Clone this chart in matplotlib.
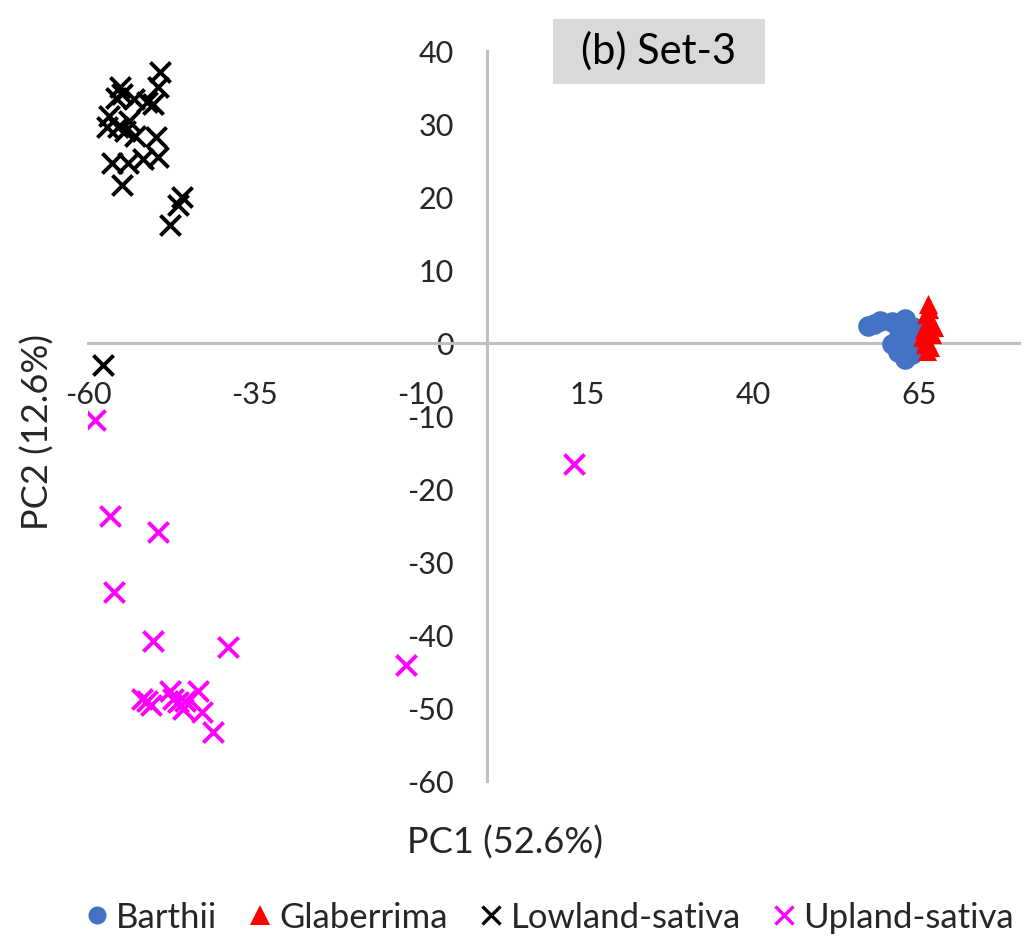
import matplotlib
matplotlib.use("Agg")
import matplotlib.pyplot as plt
from matplotlib.lines import Line2D
from matplotlib.patches import Rectangle

plt.rcParams['font.family'] = ['Lato', 'DejaVu Sans']
plt.rcParams['axes.unicode_minus'] = False

# PCA scores (PC1, PC2) per group
barthii_pc1 = [57.3, 59.1, 60.9, 62.9, 60.9, 61.8, 62.9, 63.9, 63.6, 64.1, 58.2, 62.0]
barthii_pc2 = [2.3, 3.0, 2.9, 3.3, -0.1, -1.2, -2.2, -1.5, 0.8, 2.2, 2.6, 1.0]

glaberrima_pc1 = [66.3, 66.0, 66.6, 65.7, 66.9, 66.0, 66.6, 66.2, 65.4, 67.2, 66.5, 65.9]
glaberrima_pc2 = [5.3, 4.0, 3.0, 1.9, 1.2, 0.3, -0.5, -1.1, 0.8, 2.2, 4.6, -0.2]

lowland_pc1 = [-49.2, -49.5, -55.2, -54.9, -53.1, -51.2, -50.3, -56.9, -57.2, -55.5,
               -54.4, -52.9, -49.8, -56.4, -54.0, -51.7, -49.5, -54.9, -45.9, -46.5,
               -47.6, -57.7, -53.8, -55.8]
lowland_pc2 = [37.1, 35.1, 35.1, 34.1, 33.4, 33.0, 32.7, 31.1, 29.6, 29.6,
               29.0, 28.4, 28.2, 24.7, 24.7, 25.2, 25.5, 21.6, 20.0, 18.9,
               16.2, -3.0, 30.4, 33.6]

upland_pc1 = [-58.9, -56.7, -56.1, -49.5, -50.2, -38.9, -12.2, 13.1, -41.2,
              -51.1, -51.9, -47.7, -46.5, -45.7, -43.5, -42.9, -47.2, -45.4, -50.5]
upland_pc2 = [-10.5, -23.7, -34.1, -25.9, -40.8, -41.6, -44.1, -16.6, -53.3,
              -49.0, -48.8, -47.7, -49.2, -50.1, -47.7, -50.5, -48.8, -49.0, -49.6]

x_ticks = [-60, -35, -10, 15, 40, 65]
y_ticks = [-60, -50, -40, -30, -20, -10, 0, 10, 20, 30, 40]

W, H = 1026, 945
fig = plt.figure(figsize=(W / 100, H / 100), dpi=100)
ax = fig.add_axes([88 / W, (H - 782) / H, (1019 - 88) / W, (782 - 52) / H])

ax.scatter(barthii_pc1, barthii_pc2, s=220, marker='o', color='#4472C4',
           linewidths=0, zorder=3)
ax.scatter(glaberrima_pc1, glaberrima_pc2, s=190, marker='^', color='#FF0000',
           linewidths=0, zorder=4)
ax.scatter(lowland_pc1, lowland_pc2, s=210, marker='x', color='black',
           linewidths=2.8, zorder=3)
ax.scatter(upland_pc1, upland_pc2, s=210, marker='x', color='#FF00FF',
           linewidths=2.8, zorder=3)

ax.set_xlim(-60, 80)
ax.set_ylim(-60, 40)
ax.set_xticks(x_ticks)
ax.set_yticks(y_ticks)

for side in ('top', 'right'):
    ax.spines[side].set_visible(False)
for side in ('left', 'bottom'):
    ax.spines[side].set_position(('data', 0))
    ax.spines[side].set_color('#BFBFBF')
    ax.spines[side].set_linewidth(2.2)

ax.tick_params(axis='both', length=0, labelsize=22, colors='#262626')
ax.tick_params(axis='x', pad=27)
ax.tick_params(axis='y', pad=24)

fig.text(505 / W, 1 - 843 / H, 'PC1 (52.6%)', ha='center', va='center',
         fontsize=26, color='#262626')
fig.text(38 / W, 1 - 432 / H, 'PC2 (12.6%)', ha='center', va='center',
         rotation=90, fontsize=26, color='#262626')

# Panel title on a grey box
fig.patches.append(Rectangle((553 / W, 1 - 85 / H), (765 - 553) / W, (85 - 20) / H,
                             transform=fig.transFigure, facecolor='#D9D9D9',
                             edgecolor='none', zorder=5))
fig.text(659 / W, 1 - 51 / H, '(b) Set-3', ha='center', va='center',
         fontsize=30, color='black', zorder=6)

handles = [
    Line2D([], [], linestyle='none', marker='o', markersize=13,
           color='#4472C4', markeredgewidth=0),
    Line2D([], [], linestyle='none', marker='^', markersize=15,
           color='#FF0000', markeredgewidth=0),
    Line2D([], [], linestyle='none', marker='x', markersize=13,
           color='black', markeredgewidth=2.4),
    Line2D([], [], linestyle='none', marker='x', markersize=13,
           color='#FF00FF', markeredgewidth=2.4),
]
labels = ['Barthii', 'Glaberrima', 'Lowland-sativa', 'Upland-sativa']
fig.legend(handles, labels, loc='center', bbox_to_anchor=(550 / W, 1 - 918 / H),
           ncol=4, frameon=False, fontsize=25, handlelength=0.6,
           handletextpad=0.25, columnspacing=0.95, labelcolor='#262626')

fig.savefig('out.png', dpi=100)
